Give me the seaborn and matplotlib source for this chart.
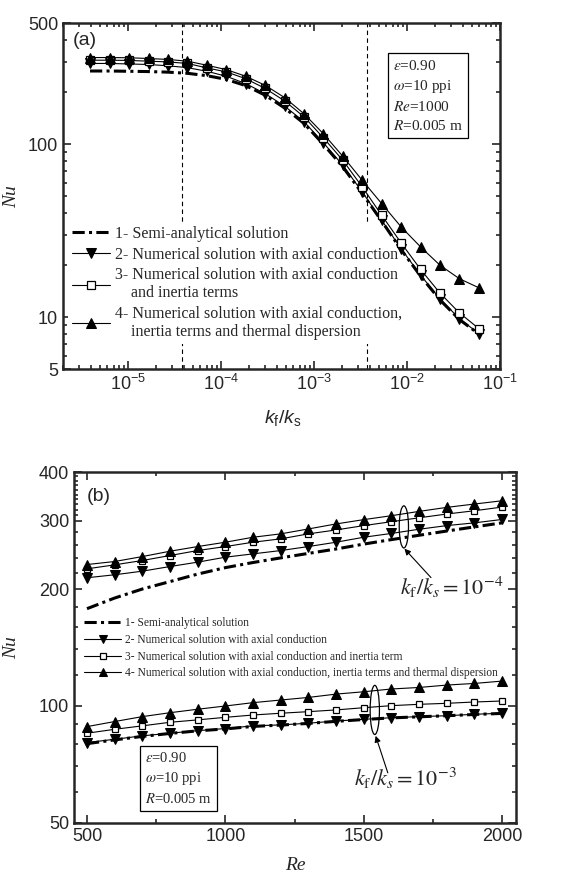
import matplotlib
matplotlib.use("Agg")
import matplotlib.pyplot as plt
import matplotlib.ticker as mticker
from matplotlib.patches import Ellipse
import seaborn as sns

sns.set_style("ticks")
plt.rcParams['font.family'] = ['Liberation Sans', 'DejaVu Sans']
plt.rcParams['mathtext.fontset'] = 'custom'
plt.rcParams['mathtext.rm'] = 'Liberation Sans'
plt.rcParams['mathtext.it'] = 'Liberation Sans:italic'
plt.rcParams['mathtext.bf'] = 'Liberation Sans:bold'

# ---- panel (a) data: Nu vs kf/ks (Re = 1000) ----
kr = [3.9e-6, 6.4e-6, 1.03e-5, 1.67e-5, 2.7e-5, 4.36e-5, 7.06e-5, 1.14e-4, 1.85e-4,
      2.99e-4, 4.83e-4, 7.81e-4, 1.26e-3, 2.04e-3, 3.3e-3, 5.34e-3, 8.64e-3,
      1.4e-2, 2.26e-2, 3.66e-2, 5.92e-2]
nu_a1 = [265, 265, 264, 263, 261, 257, 249, 237, 218, 192, 162, 132, 100, 74,
         52, 36, 24.6, 17.3, 12.6, 9.7, 8.0]
nu_a2 = [293, 293, 291, 289, 284, 277, 264, 247, 224, 196, 166, 135, 102, 75.6,
         53.0, 36.4, 24.9, 17.5, 12.8, 9.8, 8.05]
nu_a3 = [306, 306, 305, 302, 299, 293, 276, 262, 239, 210, 178, 144, 109, 80.8,
         56.7, 38.9, 26.9, 18.9, 13.8, 10.6, 8.6]
nu_a4 = [317, 317, 316, 313, 309, 302, 286, 270, 247, 219, 186, 150, 115, 85.2,
         61.9, 45.4, 33.3, 25.5, 20.0, 16.7, 14.8]
kr_marks = [3.8e-5, 3.7e-3]

# ---- panel (b) data: Nu vs Re ----
re = [500, 600, 700, 800, 900, 1000, 1100, 1200, 1300, 1400, 1500, 1600, 1700,
      1800, 1900, 2000]
# kf/ks = 1e-4
nu_b4_1 = [178, 189.6, 200, 209, 218.5, 227, 234, 240.5, 247, 253.5, 261, 268,
           275, 282, 289, 296]
nu_b4_2 = [213.8, 217.6, 222.3, 228.5, 234.5, 241.5, 246.3, 251.2, 257.2, 263.9,
           271.8, 278, 285, 291.2, 296, 302]
nu_b4_3 = [225.4, 230.8, 236.8, 243.9, 251.2, 257.2, 263.9, 269.2, 277.3, 283.8,
           291.2, 298, 305, 311.9, 318, 325]
nu_b4_4 = [231.2, 235.4, 242.4, 250.2, 257.2, 263.9, 271.8, 277.3, 285.5, 294.1,
           301.7, 308.8, 316.8, 324.4, 330.9, 337.4]
# kf/ks = 1e-3
nu_b3_1 = [80.0, 81.8, 83.5, 85.0, 86.3, 87.3, 88.6, 89.3, 90.2, 91.3, 92.3, 93.2,
           93.8, 94.4, 95.1, 95.7]
nu_b3_2 = [80.5, 82.1, 83.8, 85.1, 86.4, 87.5, 88.9, 89.4, 90.3, 91.5, 92.4, 93.3,
           93.9, 94.4, 95.2, 95.8]
nu_b3_3 = [85.1, 87.1, 88.9, 90.8, 92.1, 93.5, 94.8, 95.8, 96.7, 97.7, 99.0, 100.2,
           101, 101.6, 102.4, 103]
nu_b3_4 = [88.5, 91.2, 93.9, 96.1, 98.1, 100, 102, 103.6, 105.2, 107.3, 108.8,
           110.6, 111.6, 113.2, 114.3, 115.9]

labels_a = ["1- Semi-analytical solution",
            "2- Numerical solution with axial conduction",
            "3- Numerical solution with axial conduction\n    and inertia terms",
            "4- Numerical solution with axial conduction,\n    inertia terms and thermal dispersion"]
labels_b = ["1- Semi-analytical solution",
            "2- Numerical solution with axial conduction",
            "3- Numerical solution with axial conduction and inertia term",
            "4- Numerical solution with axial conduction, inertia terms and thermal dispersion"]

SERIF = 'Liberation Serif'
DASHDOT = (0, (4, 1.4, 1, 1.4))


def style_axes(ax):
    for s in ax.spines.values():
        s.set_linewidth(1.8)
        s.set_visible(True)
    ax.tick_params(which='both', direction='in', top=True, right=True,
                   labelsize=13, width=1.2)
    ax.tick_params(which='major', length=6)
    ax.tick_params(which='minor', length=3)


def draw_series(ax, x, ys, labels, ms):
    y1, y2, y3, y4 = ys
    sns.lineplot(x=x, y=y1, ax=ax, color='k', lw=2.2, linestyle=DASHDOT,
                 label=labels[0], zorder=3)
    sns.lineplot(x=x, y=y2, ax=ax, color='k', lw=0.8, marker='v', markersize=ms,
                 markeredgecolor='k', markerfacecolor='k', label=labels[1], zorder=3)
    sns.lineplot(x=x, y=y3, ax=ax, color='k', lw=0.8, marker='s', markersize=ms * 0.75,
                 markeredgecolor='k', markerfacecolor='white', markeredgewidth=0.9,
                 label=labels[2], zorder=3)
    sns.lineplot(x=x, y=y4, ax=ax, color='k', lw=0.8, marker='^', markersize=ms,
                 markeredgecolor='k', markerfacecolor='k', label=labels[3], zorder=3)


fig = plt.figure(figsize=(5.63, 8.73), dpi=100)
ax1 = fig.add_axes([0.112, 0.577, 0.776, 0.3963])
ax2 = fig.add_axes([0.1314, 0.0573, 0.785, 0.402])

# ---------------- (a) ----------------
ax1.set_xscale('log')
ax1.set_yscale('log')
draw_series(ax1, kr, [nu_a1, nu_a2, nu_a3, nu_a4], labels_a, 7.2)
for xm in kr_marks:
    ax1.axvline(xm, color='k', lw=0.8, linestyle=(0, (4, 3)), zorder=1)
ax1.set_xlim(2e-6, 0.1)
ax1.set_ylim(5, 500)
ax1.set_yticks([5, 10, 100, 500])
ax1.set_yticklabels(['5', '10', '100', '500'])
ax1.yaxis.set_minor_locator(mticker.LogLocator(subs=range(2, 10)))
ax1.yaxis.set_minor_formatter(mticker.NullFormatter())
ax1.xaxis.set_minor_formatter(mticker.NullFormatter())
style_axes(ax1)
ax1.set_ylabel('Nu', family=SERIF, style='italic', fontsize=14)
ax1.yaxis.set_label_coords(-0.098, 0.5)
ax1.set_xlabel(r'$k_\mathrm{f}/k_\mathrm{s}$', fontsize=14)
ax1.xaxis.set_label_coords(0.503, -0.142)
ax1.xaxis.label.set_va('center')
ax1.text(0.023, 0.95, '(a)', transform=ax1.transAxes, fontsize=14, va='center')
ax1.text(0.755, 0.79,
         '$\\varepsilon$=0.90\n$\\omega$=10 ppi\n$Re$=1000\n$R$=0.005 m',
         transform=ax1.transAxes, family=SERIF, fontsize=11, va='center',
         linespacing=1.45, math_fontfamily='stix',
         bbox=dict(boxstyle='square,pad=0.35', fc='white', ec='k', lw=0.9))
leg1 = ax1.legend(loc='upper left', bbox_to_anchor=(0.0, 0.44), frameon=True,
                  fancybox=False, framealpha=1, facecolor='white', edgecolor='none',
                  prop={'family': SERIF, 'size': 11.5}, handlelength=2.4,
                  handletextpad=0.3, labelspacing=0.3, borderpad=0.25,
                  borderaxespad=0.3)
for t in leg1.get_texts():
    t.set_linespacing(1.15)
leg1.set_zorder(2)

# ---------------- (b) ----------------
ax2.set_yscale('log')
draw_series(ax2, re, [nu_b4_1, nu_b4_2, nu_b4_3, nu_b4_4], labels_b, 6.5)
draw_series(ax2, re, [nu_b3_1, nu_b3_2, nu_b3_3, nu_b3_4], ['_nolegend_'] * 4, 6.5)
ax2.set_xlim(453, 2050)
ax2.set_ylim(50, 400)
ax2.set_xticks([500, 1000, 1500, 2000])
ax2.set_xticks([750, 1250, 1750], minor=True)
ax2.set_yticks([50, 100, 200, 300, 400])
ax2.set_yticklabels(['50', '100', '200', '300', '400'])
ax2.yaxis.set_minor_locator(mticker.FixedLocator(
    [60, 70, 80, 90, 120, 140, 160, 180, 220, 240, 260, 280,
     310, 320, 330, 340, 350, 360, 370, 380, 390]))
ax2.yaxis.set_minor_formatter(mticker.NullFormatter())
style_axes(ax2)
ax2.set_ylabel('Nu', family=SERIF, style='italic', fontsize=14)
ax2.yaxis.set_label_coords(-0.122, 0.5)
ax2.set_xlabel('Re', family=SERIF, style='italic', fontsize=14)
ax2.xaxis.set_label_coords(0.5, -0.122)
ax2.xaxis.label.set_va('center')
ax2.text(0.03, 0.929, '(b)', transform=ax2.transAxes, fontsize=14, va='center')
ax2.text(0.16, 0.127, '$\\varepsilon$=0.90\n$\\omega$=10 ppi\n$R$=0.005 m',
         transform=ax2.transAxes, family=SERIF, fontsize=10.5, va='center',
         linespacing=1.45, math_fontfamily='stix',
         bbox=dict(boxstyle='square,pad=0.35', fc='white', ec='k', lw=0.9))
ax2.legend(loc='upper left', bbox_to_anchor=(0.005, 0.61), frameon=False,
           prop={'family': SERIF, 'size': 8.3}, handlelength=3.2,
           handletextpad=0.3, labelspacing=0.42, borderpad=0.2, markerscale=0.8)


def data_to_axes(ax, x, y):
    return ax.transAxes.inverted().transform(ax.transData.transform((x, y)))


# group markers: ellipses + arrows + labels
for (ex, ey, eh, head, tail, tx, ty, lab) in [
        (1645, 289, 0.12, (1647, 254), (1743, 214), 1630, 202, '-4'),
        (1540, 97.7, 0.14, (1543, 83.8), (1587, 67.3), 1464, 65, '-3')]:
    cx, cy = data_to_axes(ax2, ex, ey)
    ax2.add_patch(Ellipse((cx, cy), 0.021, eh, transform=ax2.transAxes,
                          fill=False, ec='k', lw=0.9, zorder=4))
    ax2.annotate('', xy=head, xytext=tail,
                 arrowprops=dict(arrowstyle='-|>', color='k', lw=0.8,
                                 mutation_scale=9, shrinkA=0, shrinkB=0))
    ax2.text(tx, ty, r'$k_\mathrm{f}/k_s=10^{%s}$' % lab, fontsize=16,
             va='center', ha='left', math_fontfamily='stix')

fig.savefig('out.png', dpi=100)
